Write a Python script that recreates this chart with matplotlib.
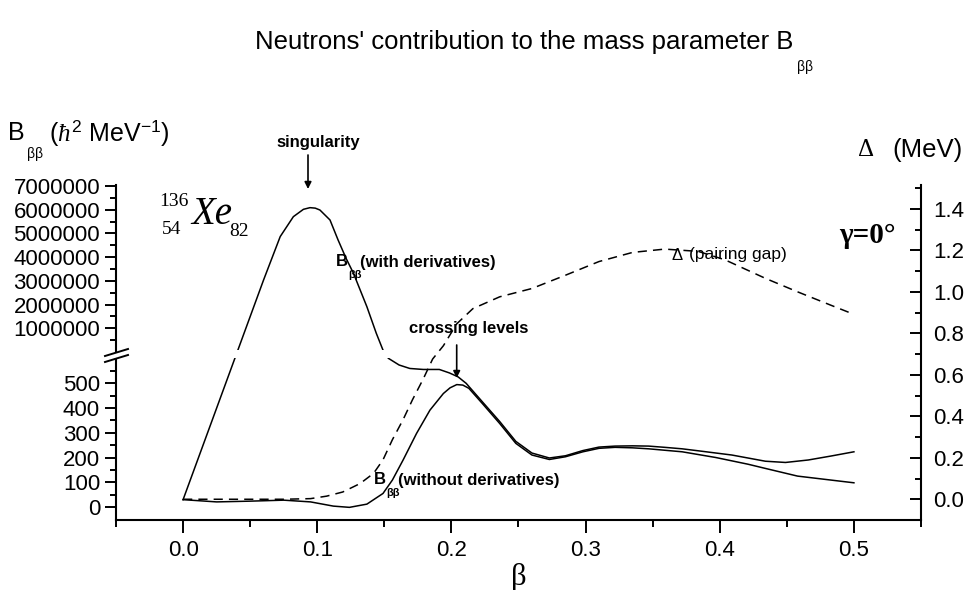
import numpy as np
import matplotlib
matplotlib.use('Agg')
import matplotlib.pyplot as plt
from matplotlib.ticker import FixedLocator, FuncFormatter, MultipleLocator, FormatStrFormatter
from matplotlib.lines import Line2D
from matplotlib.patches import Polygon, FancyArrowPatch

plt.rcParams['font.family'] = ['Liberation Sans', 'DejaVu Sans']
plt.rcParams['mathtext.fontset'] = 'custom'
plt.rcParams['mathtext.rm'] = 'Liberation Sans'
plt.rcParams['mathtext.it'] = 'Liberation Serif:italic'
plt.rcParams['mathtext.bf'] = 'Liberation Sans:bold'

# B_bb with derivatives (values above the break are in hbar^2/MeV, up to ~6e6)
beta_with = [0.0, 0.060, 0.0724, 0.0822, 0.0897, 0.0946, 0.0985, 0.102, 0.1095,
             0.1155, 0.1215, 0.127, 0.137, 0.144, 0.149, 0.153, 0.161, 0.169,
             0.179, 0.191, 0.1985, 0.205, 0.211, 0.223, 0.236, 0.248, 0.26,
             0.273, 0.285, 0.298, 0.31, 0.322, 0.335, 0.347, 0.359, 0.372,
             0.384, 0.409, 0.434, 0.449, 0.466, 0.483, 0.5]
b_with = [30, 3.04e6, 4.87e6, 5.71e6, 6.02e6, 6.09e6, 6.07e6, 5.99e6, 5.57e6,
          4.73e6, 3.95e6, 3.32e6, 1.91e6, 0.79e6, 0.08e6, 600, 573, 559,
          555, 555, 541, 525, 499, 425, 345, 265, 218,
          198, 207, 228, 242, 246, 247, 246, 241, 235,
          227, 210, 185, 180, 190, 206, 223]

# B_bb without derivatives
beta_without = [0.0, 0.025, 0.05, 0.075, 0.095, 0.112, 0.124, 0.137, 0.149,
                0.156, 0.164, 0.174, 0.184, 0.194, 0.199, 0.204, 0.2085, 0.213,
                0.223, 0.236, 0.248, 0.26, 0.273, 0.285, 0.298, 0.31, 0.322,
                0.335, 0.347, 0.372, 0.397, 0.421, 0.434, 0.458, 0.5]
b_without = [30, 21, 24, 28, 21, 4, -1, 12, 55,
             109, 190, 297, 391, 458, 481, 494, 492, 479,
             418, 337, 257, 210, 192, 203, 223, 237, 241,
             239, 235, 223, 200, 173, 156, 125, 98]

# pairing gap Delta (MeV)
beta_gap = [0.0, 0.025, 0.05, 0.075, 0.095, 0.107, 0.119, 0.132, 0.142, 0.149,
            0.156, 0.164, 0.171, 0.179, 0.186, 0.194, 0.204, 0.216, 0.236,
            0.26, 0.285, 0.31, 0.335, 0.359, 0.384, 0.404, 0.434, 0.458,
            0.483, 0.499]
gap = [0.0, 0.0, 0.0, 0.0, 0.003, 0.015, 0.035, 0.076, 0.125, 0.19,
       0.287, 0.384, 0.48, 0.58, 0.676, 0.74, 0.846, 0.919, 0.976,
       1.016, 1.08, 1.146, 1.19, 1.206, 1.195, 1.154, 1.065, 1.0,
       0.935, 0.894]

low_ticks = [0, 100, 200, 300, 400, 500]
up_ticks = [1e6, 2e6, 3e6, 4e6, 5e6, 6e6, 7e6]
gap_ticks = [0.0, 0.2, 0.4, 0.6, 0.8, 1.0, 1.2, 1.4]
beta_ticks = [0.0, 0.1, 0.2, 0.3, 0.4, 0.5]

W, H = 967, 590
fig = plt.figure(figsize=(W / 100, H / 100), dpi=100)


def fp(x, y):
    # picture pixel -> figure fraction
    return (x / W, 1 - y / H)


def ptext(x, y, s, **kw):
    kw.setdefault('ha', 'left')
    kw.setdefault('va', 'center')
    return fig.text(x / W, 1 - y / H, s, **kw)


ax = fig.add_axes([116 / W, 1 - 520 / H, (921 - 116) / W, (520 - 185) / H])

# broken y axis: linear 0..600 below, linear millions above
LOW_MIN, LOW_K, BRK = -52, 0.248, 613
UP_U0, UP_K = 168, 2.37e-5


def fwd(v):
    v = np.asarray(v, dtype=float)
    return np.where(v <= BRK, (v - LOW_MIN) * LOW_K, UP_U0 + v * UP_K)


def inv(u):
    u = np.asarray(u, dtype=float)
    u_brk = (BRK - LOW_MIN) * LOW_K
    return np.where(u <= u_brk, u / LOW_K + LOW_MIN,
                    np.maximum((u - UP_U0) / UP_K, BRK))


ax.set_yscale('function', functions=(fwd, inv))
ax.plot(beta_with, b_with, color='k', lw=1.1)
ax.plot(beta_without, b_without, color='k', lw=1.1)
ax.set_ylim(-52, 7.046e6)
ax.set_xlim(-0.05, 0.55)
# small gap in the curves where they cross the break
ax.axhspan(601, 84000, xmin=0.01, xmax=1, color='white', lw=0, zorder=3)

ax.yaxis.set_major_locator(FixedLocator(low_ticks + up_ticks))
ax.yaxis.set_minor_locator(FixedLocator([50, 150, 250, 350, 450, 550, 600]
                                        + [0.5e6 + 1e6 * i for i in range(7)]))
ax.yaxis.set_major_formatter(FuncFormatter(lambda v, p: f'{v:.0f}'))
ax.xaxis.set_major_locator(FixedLocator(beta_ticks))
ax.xaxis.set_minor_locator(MultipleLocator(0.05))
ax.xaxis.set_major_formatter(FormatStrFormatter('%.1f'))

ax.tick_params(axis='y', which='major', direction='out', length=8, width=1.4,
               pad=3.5, labelsize=16)
ax.tick_params(axis='y', which='minor', direction='out', length=4.5, width=1.4)
ax.tick_params(axis='x', which='major', direction='out', length=9.4, width=1.4,
               pad=5, labelsize=16)
ax.tick_params(axis='x', which='minor', direction='out', length=5, width=1.4)
for s in ['top', 'right']:
    ax.spines[s].set_visible(False)
for s in ['left', 'bottom']:
    ax.spines[s].set_linewidth(1.5)

ax2 = ax.twinx()
ax2.plot(beta_gap, gap, color='k', lw=1.1, ls=(0, (6, 4)))
ax2.set_ylim(-0.1, 1.515)
ax2.yaxis.set_major_locator(FixedLocator(gap_ticks))
ax2.yaxis.set_minor_locator(FixedLocator([0.1, 0.3, 0.5, 0.7, 0.9, 1.1, 1.3, 1.5]))
ax2.yaxis.set_major_formatter(FormatStrFormatter('%.1f'))
ax2.tick_params(axis='y', which='major', direction='in', length=8, width=1.4,
                pad=9, labelsize=16)
ax2.tick_params(axis='y', which='minor', direction='in', length=4.5, width=1.4)
for s in ['top', 'left', 'bottom']:
    ax2.spines[s].set_visible(False)
ax2.spines['right'].set_linewidth(1.5)

# break marker on the left spine
fig.add_artist(Polygon([fp(104, 356), fp(129, 348), fp(129, 354), fp(104, 362)],
                       closed=True, transform=fig.transFigure,
                       facecolor='white', edgecolor='none', zorder=5))
for (x0, y0, x1, y1) in [(105, 356, 128, 349), (105, 362, 128, 355)]:
    fig.add_artist(Line2D([fp(x0, y0)[0], fp(x1, y1)[0]],
                          [fp(x0, y0)[1], fp(x1, y1)[1]],
                          transform=fig.transFigure, color='k', lw=1.4, zorder=6))

# title and axis labels
ptext(793, 42, "Neutrons' contribution to the mass parameter B", ha='right',
      fontsize=18.5)
ptext(797, 67, "ββ", fontsize=10)
ptext(25, 133, "B", ha='right', fontsize=18)
ptext(27, 154, "ββ", fontsize=10)
ptext(49, 133, r"($\mathit{ħ}^2$ MeV$^{-1}$)", fontsize=18)
ptext(866, 150, "Δ", ha='center', family='Liberation Serif', fontsize=18)
ptext(892, 150, "(MeV)", fontsize=18.5)
ptext(519, 577, "β", ha='center', family='Liberation Serif', fontsize=22)

# nucleus
ptext(189, 202, "136", ha='right', family='Liberation Serif', fontsize=14)
ptext(181, 229, "54", ha='right', family='Liberation Serif', fontsize=14)
ptext(191, 215, "Xe", family='Liberation Serif', style='italic', fontsize=28)
ptext(229, 232, "82", family='Liberation Serif', fontsize=14)
ptext(867, 235, "γ=0°", ha='center', family='Liberation Serif',
      weight='bold', fontsize=21)

# annotations
ptext(318, 142, "singularity", ha='center', fontsize=12, weight='bold')
ptext(469, 329, "crossing levels", ha='center', fontsize=12, weight='bold')
for (x0, y0, x1, y1) in [(308, 155, 308, 189), (456.7, 345, 456.7, 378)]:
    fig.add_artist(FancyArrowPatch(
        fp(x0, y0), fp(x1, y1), transform=fig.transFigure,
        arrowstyle='-|>', mutation_scale=10, color='k', lw=1.2,
        shrinkA=0, shrinkB=0))

ptext(336, 262, "B", fontsize=12, weight='bold')
ptext(348, 275, "ββ", fontsize=8, weight='bold')
ptext(360, 262, "(with derivatives)", fontsize=12, weight='bold')
ptext(374, 480, "B", fontsize=12, weight='bold')
ptext(386, 493, "ββ", fontsize=8, weight='bold')
ptext(398, 480, "(without derivatives)", fontsize=12, weight='bold')
ptext(672, 255, "Δ", fontsize=12)
ptext(689, 255, "(pairing gap)", fontsize=12.5)

fig.savefig('out.png', dpi=100, facecolor='white')
